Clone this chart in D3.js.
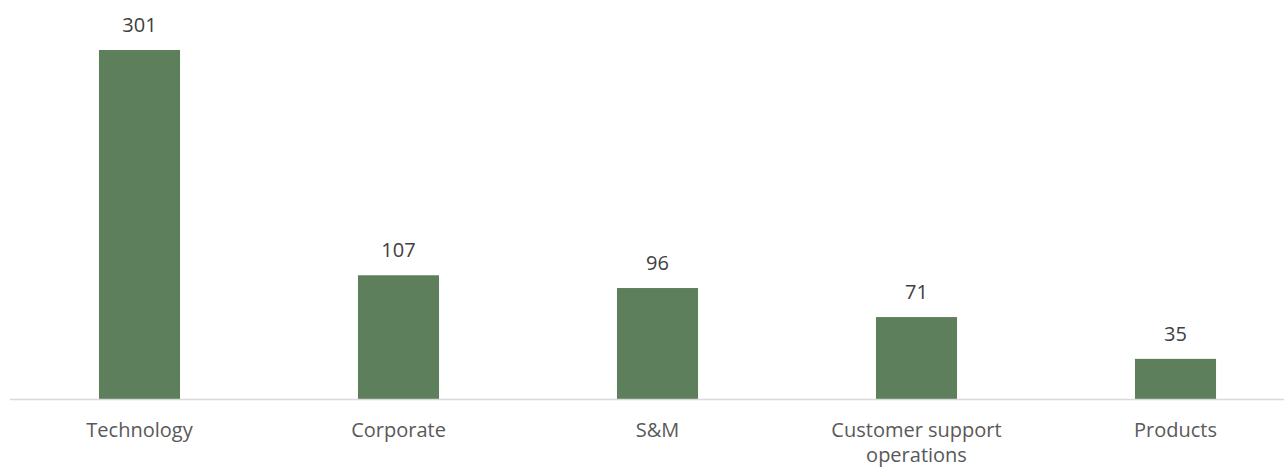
<!DOCTYPE html>
<html>
<head>
<meta charset="utf-8">
<script src="https://cdn.jsdelivr.net/npm/d3@7"></script>
<style>
  html, body { margin: 0; padding: 0; background: #fff; }
  svg { display: block; font-family: "Open Sans", "Noto Sans", sans-serif; }
</style>
</head>
<body>
<svg id="chart"></svg>
<script>
// headcount by department
const categories = ['Technology', 'Corporate', 'S&M', 'Customer support operations', 'Products'];
const values = [301, 107, 96, 71, 35];
// wrapped label lines
const labelLines = [['Technology'], ['Corporate'], ['S&M'], ['Customer support', 'operations'], ['Products']];

const width = 1284, height = 468;
const baseY = 399.5;
const barColor = '#5e7f5b';

const svg = d3.select('#chart').attr('width', width).attr('height', height);

const x = d3.scaleBand()
  .domain(categories)
  .range([10, 10 + 5 * 259])
  .paddingInner(0.687)
  .paddingOuter(0.3435);

const y = d3.scaleLinear()
  .domain([0, 301])
  .range([baseY, 50]);

// bars
svg.append('g').selectAll('rect')
  .data(values)
  .join('rect')
  .attr('x', (d, i) => x(categories[i]))
  .attr('y', d => y(d))
  .attr('width', x.bandwidth())
  .attr('height', d => baseY - y(d))
  .attr('fill', barColor);

// baseline
svg.append('line')
  .attr('x1', 10).attr('x2', width)
  .attr('y1', baseY).attr('y2', baseY)
  .attr('stroke', '#d9d9d9')
  .attr('stroke-width', 1.5);

// value labels
svg.append('g').selectAll('text')
  .data(values)
  .join('text')
  .attr('x', (d, i) => x(categories[i]) + x.bandwidth() / 2)
  .attr('y', d => y(d) - 18)
  .attr('text-anchor', 'middle')
  .attr('font-size', 20)
  .attr('fill', '#404040')
  .text(d => d);

// category labels
const cat = svg.append('g').selectAll('text')
  .data(categories)
  .join('text')
  .attr('x', d => x(d) + x.bandwidth() / 2)
  .attr('y', 437)
  .attr('text-anchor', 'middle')
  .attr('font-size', 20)
  .attr('fill', '#595959');

cat.each(function(d, i) {
  const t = d3.select(this);
  labelLines[i].forEach((line, j) => {
    t.append('tspan')
      .attr('x', x(d) + x.bandwidth() / 2)
      .attr('dy', j === 0 ? 0 : 25)
      .text(line);
  });
});
</script>
</body>
</html>
